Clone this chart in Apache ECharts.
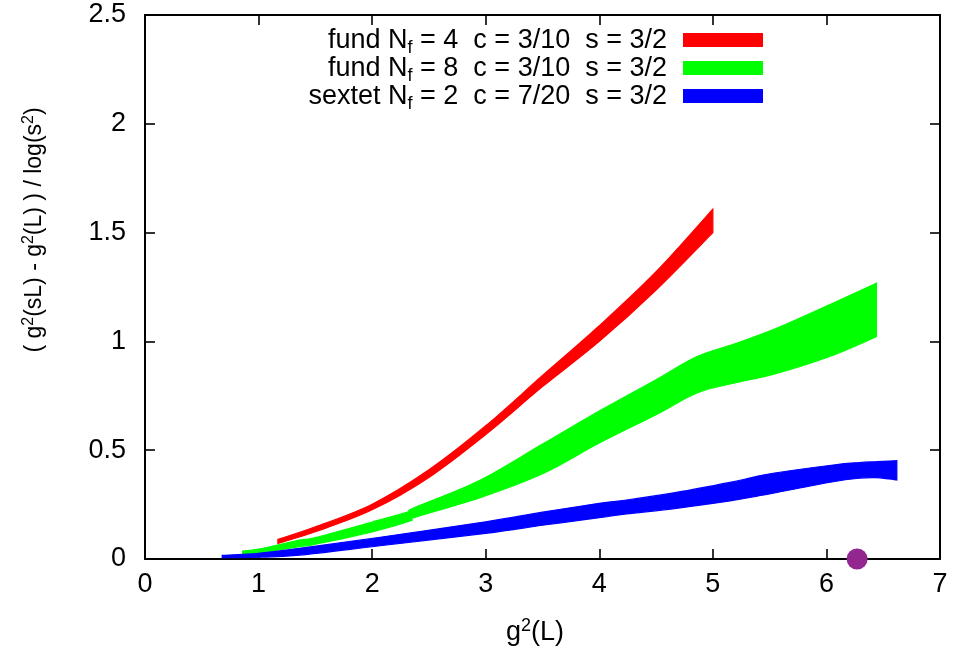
<!DOCTYPE html>
<html>
<head>
<meta charset="utf-8">
<script src="https://cdn.jsdelivr.net/npm/echarts@6/dist/echarts.min.js"></script>
<style>
  html, body { margin: 0; padding: 0; background: #fff; }
  #chart { width: 959px; height: 655px; }
</style>
</head>
<body>
<div id="chart"></div>
<script>
// Step-scaling function bands: lower and upper edge of each band vs g^2(L)
const redX  = [1.17, 1.5, 2.0, 2.5, 3.0, 3.5, 4.0, 4.5, 5.0];
const redLo = [0.072, 0.125, 0.226, 0.375, 0.572, 0.792, 1.000, 1.236, 1.500];
const redHi = [0.090, 0.148, 0.252, 0.410, 0.612, 0.843, 1.072, 1.320, 1.608];

const greenX  = [0.86, 1.0, 1.36, 1.5, 2.0, 2.34, 2.36, 2.95, 3.5, 4.0, 4.5, 4.86, 5.2, 5.56, 6.06, 6.44];
const greenLo = [0.023, 0.027, 0.057, 0.068, 0.125, 0.176, 0.189, 0.282, 0.392, 0.533, 0.663, 0.763, 0.810, 0.853, 0.937, 1.022];
const greenHi = [0.037, 0.045, 0.087, 0.098, 0.170, 0.220, 0.233, 0.362, 0.528, 0.680, 0.824, 0.930, 0.990, 1.060, 1.176, 1.267];

const blueX  = [0.68, 1.0, 1.36, 2.07, 3.0, 3.5, 4.0, 4.24, 4.68, 5.15, 5.35, 5.53, 6.06, 6.29, 6.43, 6.55, 6.62];
const blueLo = [0.006, 0.008, 0.018, 0.061, 0.118, 0.155, 0.190, 0.207, 0.233, 0.267, 0.285, 0.302, 0.355, 0.371, 0.374, 0.368, 0.363];
const blueHi = [0.017, 0.026, 0.049, 0.100, 0.171, 0.215, 0.256, 0.271, 0.306, 0.352, 0.375, 0.394, 0.432, 0.443, 0.447, 0.450, 0.452];

// Fixed point marker on the axis
const markerPoint = [[6.27, 0]];

// Legend entries (rich text: subscript f)
const legendNames = [
  '{a|fund N}{s|f}{a| = 4  c = 3/10  s = 3/2}',
  '{a|fund N}{s|f}{a| = 8  c = 3/10  s = 3/2}',
  '{a|sextet N}{s|f}{a| = 2  c = 7/20  s = 3/2}'
];
const bandColors = ['#ff0000', '#00ff00', '#0000ff'];

const FONT = '"Liberation Sans", Arial, Helvetica, sans-serif';
const FS = 27;

// Catmull-Rom style cubic segments through pixel points
function curveThrough(pts) {
  let d = '';
  for (let i = 0; i < pts.length - 1; i++) {
    const p0 = pts[i - 1] || pts[i];
    const p1 = pts[i];
    const p2 = pts[i + 1];
    const p3 = pts[i + 2] || p2;
    const c1 = [p1[0] + (p2[0] - p0[0]) / 6, p1[1] + (p2[1] - p0[1]) / 6];
    const c2 = [p2[0] - (p3[0] - p1[0]) / 6, p2[1] - (p3[1] - p1[1]) / 6];
    d += ' C' + c1[0] + ',' + c1[1] + ' ' + c2[0] + ',' + c2[1] + ' ' + p2[0] + ',' + p2[1];
  }
  return d;
}

// Filled band between lower and upper edges
function band(name, xs, lo, hi, color) {
  return {
    type: 'custom',
    name: name,
    data: xs.map((x, i) => [x, lo[i], hi[i]]),
    encode: { x: 0, y: [1, 2] },
    clip: true,
    itemStyle: { color: color },
    silent: true,
    renderItem: function (params, api) {
      if (params.dataIndex !== 0) return null;
      const up = xs.map((x, i) => api.coord([x, hi[i]]));
      const dn = xs.map((x, i) => api.coord([x, lo[i]])).reverse();
      const d = 'M' + up[0][0] + ',' + up[0][1] + curveThrough(up) +
                ' L' + dn[0][0] + ',' + dn[0][1] + curveThrough(dn) + ' Z';
      return {
        type: 'path',
        shape: { pathData: d },
        style: { fill: color, stroke: color, lineWidth: 1.2 }
      };
    }
  };
}

function richStyle(fs) {
  const sub = Math.round(fs * 0.68);
  return {
    a: { fontSize: fs, fontFamily: FONT, color: '#000', lineHeight: Math.round(fs * 1.2) },
    s: { fontSize: sub, fontFamily: FONT, color: '#000', lineHeight: sub, verticalAlign: 'bottom' },
    p: { fontSize: sub, fontFamily: FONT, color: '#000', lineHeight: sub, verticalAlign: 'top' }
  };
}

function makeAxis(kind, pos, showLabel, min, max, step) {
  return {
    type: 'value', min: min, max: max, interval: step, position: pos,
    axisLine: { show: true, onZero: false, lineStyle: { color: '#000', width: 2 } },
    axisTick: { show: true, inside: true, length: 10, lineStyle: { color: '#000', width: 1.6 } },
    axisLabel: showLabel
      ? { show: true, fontSize: FS, fontFamily: FONT, color: '#000', margin: kind === 'x' ? 12 : 19 }
      : { show: false },
    splitLine: { show: false }
  };
}

const legendGraphics = [];
legendNames.forEach((txt, i) => {
  const cy = 40 + i * 28;
  legendGraphics.push({
    type: 'text', x: 667, y: cy + 1,
    style: { text: txt, rich: richStyle(FS), textAlign: 'right', textVerticalAlign: 'middle', fill: '#000' }
  });
  legendGraphics.push({
    type: 'rect', shape: { x: 683, y: cy - 7, width: 80, height: 14 },
    style: { fill: bandColors[i] }
  });
});

const chart = echarts.init(document.getElementById('chart'));
chart.setOption({
  animation: false,
  backgroundColor: '#fff',
  grid: { left: 145, right: 19, top: 15, bottom: 96, containLabel: false },
  xAxis: [makeAxis('x', 'bottom', true, 0, 7, 1), makeAxis('x', 'top', false, 0, 7, 1)],
  yAxis: [makeAxis('y', 'left', true, 0, 2.5, 0.5), makeAxis('y', 'right', false, 0, 2.5, 0.5)],
  series: [
    band('fund Nf = 4', redX, redLo, redHi, bandColors[0]),
    band('fund Nf = 8', greenX, greenLo, greenHi, bandColors[1]),
    band('sextet Nf = 2', blueX, blueLo, blueHi, bandColors[2]),
    {
      type: 'scatter', name: 'marker', data: markerPoint, symbol: 'circle', symbolSize: 21,
      itemStyle: { color: '#93278f', opacity: 1 }, clip: false, z: 10
    }
  ],
  graphic: [
    // y-axis title
    {
      type: 'text', x: 35, y: 230, rotation: Math.PI / 2,
      style: {
        text: '{a|( g}{p|2}{a|(sL) - g}{p|2}{a|(L) ) / log(s}{p|2}{a|)}',
        rich: richStyle(23), textAlign: 'center', textVerticalAlign: 'middle', fill: '#000'
      }
    },
    // x-axis title
    {
      type: 'text', x: 535, y: 633,
      style: {
        text: '{a|g}{p|2}{a|(L)}',
        rich: richStyle(FS), textAlign: 'center', textVerticalAlign: 'middle', fill: '#000'
      }
    }
  ].concat(legendGraphics)
});
</script>
</body>
</html>
